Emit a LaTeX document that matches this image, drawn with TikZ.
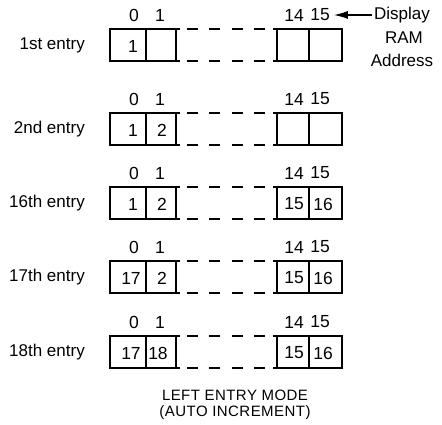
\documentclass[tikz,border=0pt]{standalone}
\usepackage{fontspec}
\setmainfont{Liberation Sans}
\usetikzlibrary{arrows.meta}
\newcommand\entryrow[9]{%
  \node[lbl, anchor=east] (lab#1) at (85,#2) {#3};
  \node[num] (hza#1) at (134,#2-30) {0};
  \node[num] (hon#1) at (160,#2-30) {1};
  \node[num] (hft#1) at (294,#2-30) {14};
  \node[num] (hff#1) at (320,#2-30) {15};
  \draw[box] (180,#2-16) -- (110,#2-16) -- (110,#2+16) -- (180,#2+16);
  \draw[box] (146,#2-16) -- (146,#2+16);
  \draw[box] (176,#2-16) -- (176,#2+16);
  \draw[dsh] (187,#2-16) -- (265,#2-16);
  \draw[dsh] (187,#2+16) -- (265,#2+16);
  \draw[box] (273,#2-16) -- (342,#2-16) -- (342,#2+16) -- (273,#2+16);
  \draw[box] (277,#2-16) -- (277,#2+16);
  \draw[box] (309,#2-16) -- (309,#2+16);
  \node[num] (ca#1) at (#9,#2+1) {#4};
  \node[num] (cb#1) at (#8,#2+1) {#5};
  \node[num] (cc#1) at (294,#2+1) {#6};
  \node[num] (cd#1) at (323,#2+1) {#7};
}
\begin{document}
\begin{tikzpicture}[x=1pt,y=-1pt,
  box/.style={line width=1.9pt},
  dsh/.style={line width=1.7pt, dash pattern=on 11pt off 11.33pt},
  lbl/.style={font=\fontsize{17}{19}\selectfont, inner sep=0pt},
  num/.style={font=\fontsize{17.5}{19}\selectfont, inner sep=0pt},
  captxt/.style={font=\fontsize{15}{17}\selectfont\addfontfeatures{LetterSpace=3}, inner sep=0pt}]
\useasboundingbox (0,0) rectangle (442,425);
\entryrow{1}{45}{1st entry}{1}{}{}{}{162}{133}
\entryrow{2}{129}{2nd entry}{1}{2}{}{}{162}{133}
\entryrow{3}{203}{16th entry}{1}{2}{15}{16}{162}{133}
\entryrow{4}{277}{17th entry}{17}{2}{15}{16}{162}{131}
\entryrow{5}{352}{18th entry}{17}{18}{15}{16}{158}{131}
\node[lbl] (disp) at (402,15) {Display};
\node[lbl] (ram) at (404,38) {RAM};
\node[lbl] (addr) at (402,60) {Address};
\draw[line width=1.2pt, -{Latex[length=14pt,width=8pt]}, shorten <=2pt, shorten >=4pt]
  (disp.west |- hff1.east) -- (hff1.east);
\node[captxt] (cap1) at (235,395) {LEFT ENTRY MODE};
\node[captxt] (cap2) at (235,413) {(AUTO INCREMENT)};
\end{tikzpicture}
\end{document}
